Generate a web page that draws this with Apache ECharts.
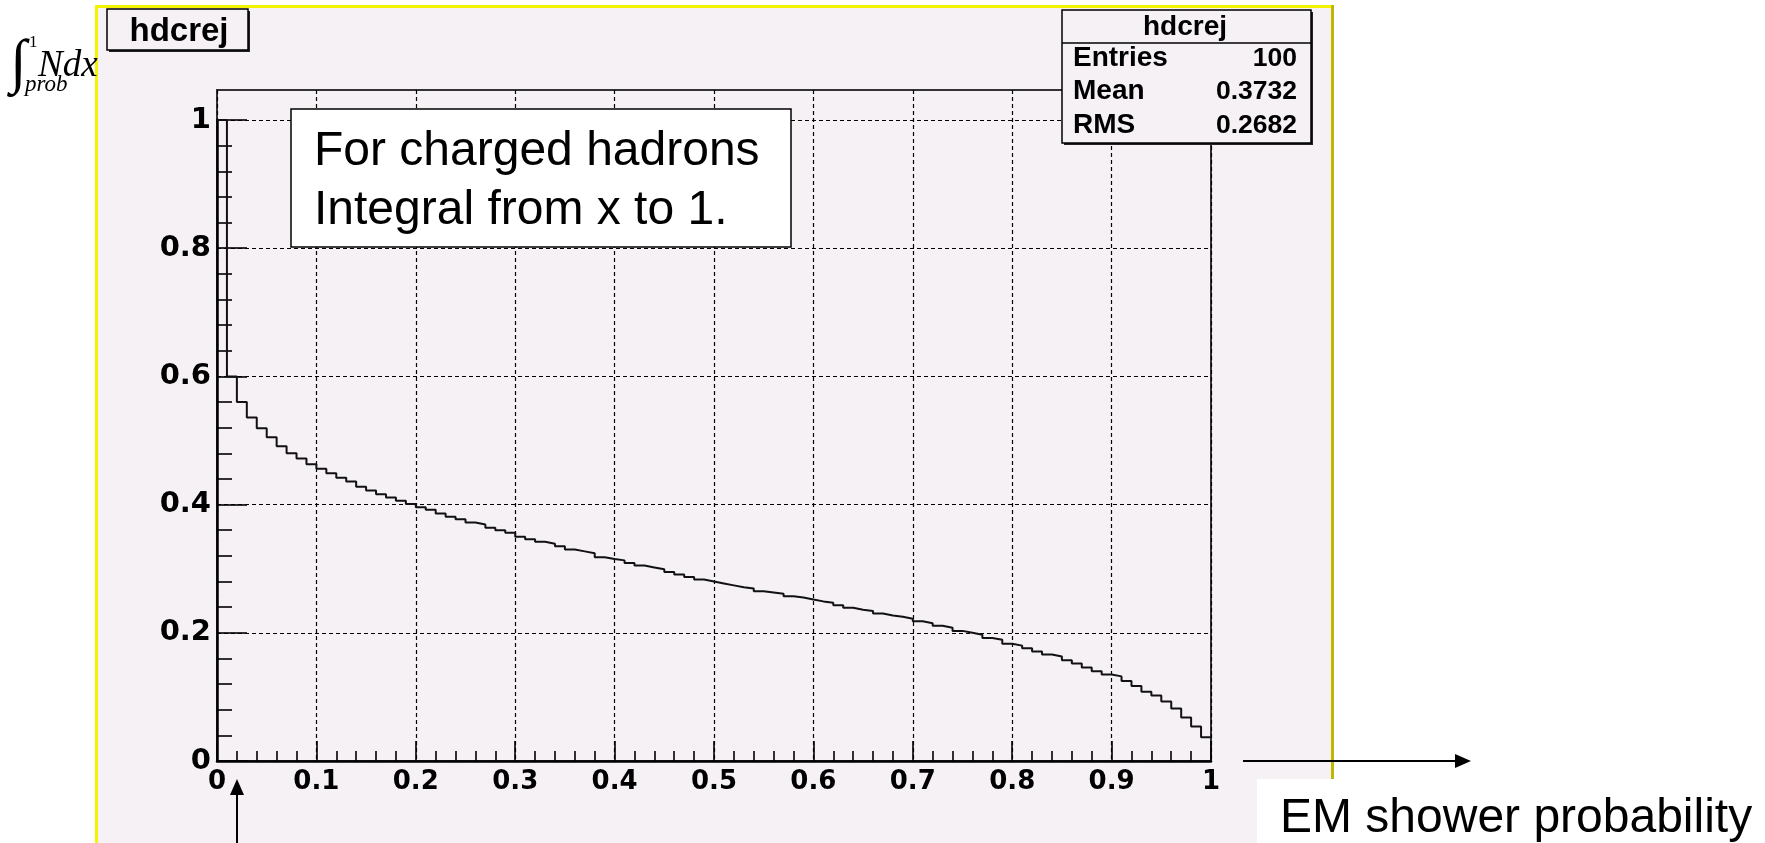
<!DOCTYPE html>
<html>
<head>
<meta charset="utf-8">
<script src="https://cdn.jsdelivr.net/npm/echarts@6/dist/echarts.min.js"></script>
<style>
html,body{margin:0;padding:0;background:#ffffff;}
#chart{width:1765px;height:843px;}
</style>
</head>
<body>
<div id="chart"></div>
<script>
// ---- data ----
const histTitle = 'hdcrej';
const xMin = 0, xMax = 1, binWidth = 0.01;
// integral of N from x to 1 (normalised), one value per bin of width 0.01
const binValues = [
  1.000, 0.600, 0.560, 0.536, 0.519, 0.505, 0.491, 0.480, 0.472, 0.463,
  0.456, 0.449, 0.442, 0.436, 0.428, 0.422, 0.416, 0.411, 0.406, 0.401,
  0.396, 0.392, 0.386, 0.381, 0.377, 0.372, 0.369, 0.364, 0.360, 0.356,
  0.350, 0.346, 0.342, 0.339, 0.335, 0.330, 0.327, 0.324, 0.318, 0.315,
  0.313, 0.309, 0.305, 0.302, 0.299, 0.295, 0.291, 0.287, 0.283, 0.280,
  0.277, 0.274, 0.271, 0.269, 0.265, 0.263, 0.261, 0.257, 0.255, 0.252,
  0.249, 0.247, 0.243, 0.239, 0.236, 0.234, 0.230, 0.227, 0.225, 0.222,
  0.218, 0.215, 0.211, 0.208, 0.203, 0.200, 0.197, 0.192, 0.189, 0.183,
  0.180, 0.176, 0.171, 0.166, 0.163, 0.157, 0.152, 0.146, 0.140, 0.135,
  0.132, 0.125, 0.117, 0.108, 0.102, 0.093, 0.082, 0.068, 0.054, 0.037
];
const statsLabels = ['Entries', 'Mean', 'RMS'];
const statsValues = ['100', '0.3732', '0.2682'];
const noteLines = ['For charged hadrons', 'Integral from x to 1.'];
const xAxisName = 'EM shower probability';

// ---- layout helpers ----
const SANS = '"Liberation Sans", Arial, Helvetica, sans-serif';
const WIDE = '"DejaVu Sans", "Liberation Sans", sans-serif';
const SERIF = '"Liberation Serif", "Times New Roman", serif';
const PAD = '#f5f1f5';
const GL = 217, GR = 1211, GT = 90, GB = 761, GT1 = 120; // plot frame px
function mid(baseline, size) { return baseline - 0.32 * size; }
function txt(text, x, baseline, size, opts) {
  opts = opts || {};
  return {
    type: 'text', x: x, y: mid(baseline, size), z: opts.z || 120,
    style: {
      text: text, fill: opts.fill || '#000',
      fontSize: size, fontFamily: opts.family || SANS,
      fontWeight: opts.weight || 'normal', fontStyle: opts.style || 'normal',
      align: opts.align || 'left', verticalAlign: 'middle'
    }
  };
}

const stepData = binValues.map((v, i) => [xMin + i * binWidth, v]);
stepData.push([xMax, binValues[binValues.length - 1]]);

const dashed = { show: true, lineStyle: { color: '#000', width: 1.2, type: [4, 3] } };
const tickStyle = { color: '#000', width: 1.6 };

const chart = echarts.init(document.getElementById('chart'), null, { renderer: 'canvas' });
const option = {
  animation: false,
  backgroundColor: 'transparent',
  grid: [
    { left: GL, right: 1765 - GR, top: GT1, bottom: 843 - GB, show: false },
    { left: GL, right: 1765 - GR, top: GT, bottom: 843 - GB, show: true,
      borderColor: '#333', borderWidth: 2, backgroundColor: 'transparent' }
  ],
  xAxis: [
    { gridIndex: 0, type: 'value', min: xMin, max: xMax, show: false },
    { gridIndex: 1, type: 'value', min: xMin, max: xMax, interval: 0.1,
      axisLine: { show: true, onZero: false, lineStyle: { color: '#000', width: 2.5 } },
      axisTick: { show: true, inside: true, length: 20, lineStyle: tickStyle },
      minorTick: { show: true, splitNumber: 5, length: 10, lineStyle: tickStyle },
      axisLabel: { margin: 8, color: '#000', fontFamily: WIDE, fontWeight: 'bold', fontSize: 26 },
      splitLine: dashed }
  ],
  yAxis: [
    { gridIndex: 0, type: 'value', min: 0, max: 1, interval: 0.2,
      axisLine: { show: true, onZero: false, lineStyle: { color: '#000', width: 2.5 } },
      axisTick: { show: true, inside: true, length: 30, lineStyle: tickStyle },
      minorTick: { show: true, splitNumber: 5, length: 15, lineStyle: tickStyle },
      axisLabel: { margin: 6, color: '#000', fontFamily: WIDE, fontWeight: 'bold', fontSize: 29 },
      splitLine: dashed },
    { gridIndex: 1, type: 'value', min: 0, max: 1, show: false }
  ],
  series: [
    { type: 'line', xAxisIndex: 0, yAxisIndex: 0, step: 'end', symbol: 'none',
      clip: false, silent: true, z: 5,
      lineStyle: { color: '#111', width: 2 },
      data: stepData }
  ],
  graphic: [
    // pad background + borders
    { type: 'rect', z: -100, shape: { x: 97, y: 6, width: 1236, height: 840 }, style: { fill: PAD } },
    { type: 'rect', z: -99, shape: { x: 95, y: 5, width: 3, height: 840 }, style: { fill: '#f4f400' } },
    { type: 'rect', z: -99, shape: { x: 95, y: 5, width: 1239, height: 3 }, style: { fill: '#f4f400' } },
    { type: 'rect', z: -99, shape: { x: 1331, y: 5, width: 3, height: 840 }, style: { fill: '#bdb800' } },
    // title box
    { type: 'rect', z: 100, shape: { x: 109, y: 11, width: 141, height: 41 }, style: { fill: '#222' } },
    { type: 'rect', z: 101, shape: { x: 107, y: 9, width: 141, height: 41 }, style: { fill: PAD, stroke: '#000', lineWidth: 1.5 } },
    txt(histTitle, 179, 42, 33, { weight: 'bold', align: 'center' }),
    // stats box
    { type: 'rect', z: 100, shape: { x: 1064, y: 12, width: 249, height: 133 }, style: { fill: '#222' } },
    { type: 'rect', z: 101, shape: { x: 1062, y: 10, width: 249, height: 133 }, style: { fill: PAD, stroke: '#000', lineWidth: 1.5 } },
    { type: 'line', z: 102, shape: { x1: 1062, y1: 43, x2: 1311, y2: 43 }, style: { stroke: '#000', lineWidth: 1.5 } },
    txt(histTitle, 1185, 36, 28, { weight: 'bold', align: 'center' }),
    ...statsLabels.map((s, i) => txt(s, 1073, 67 + i * 33.5, 28, { weight: 'bold' })),
    ...statsValues.map((s, i) => txt(s, 1297, 67 + i * 33.5, 26.5, { weight: 'bold', align: 'right' })),
    // note box
    { type: 'rect', z: 101, shape: { x: 291, y: 109, width: 500, height: 138 }, style: { fill: '#fff', stroke: '#000', lineWidth: 1.5 } },
    ...noteLines.map((s, i) => txt(s, 314, 167 + i * 59, 48)),
    // y-axis title (integral)
    txt('\u222B', 10, 84, 60, { family: SERIF }),
    txt('1', 29, 48, 17, { family: SERIF }),
    txt('prob', 25, 92, 23, { family: SERIF, style: 'italic' }),
    txt('Ndx', 38, 78, 37, { family: SERIF, style: 'italic' }),
    // x-axis arrow + name
    { type: 'rect', z: 110, shape: { x: 1257, y: 779, width: 508, height: 64 }, style: { fill: '#fff' } },
    { type: 'line', z: 111, shape: { x1: 1243, y1: 761, x2: 1458, y2: 761 }, style: { stroke: '#000', lineWidth: 2 } },
    { type: 'polygon', z: 111, shape: { points: [[1455, 754], [1471, 761], [1455, 768]] }, style: { fill: '#000' } },
    txt(xAxisName, 1280, 834, 48),
    // vertical arrow under x=0.02
    { type: 'line', z: 111, shape: { x1: 237, y1: 843, x2: 237, y2: 793 }, style: { stroke: '#000', lineWidth: 2 } },
    { type: 'polygon', z: 111, shape: { points: [[230, 795], [237, 779], [244, 795]] }, style: { fill: '#000' } }
  ]
};
chart.setOption(option);
</script>
</body>
</html>
